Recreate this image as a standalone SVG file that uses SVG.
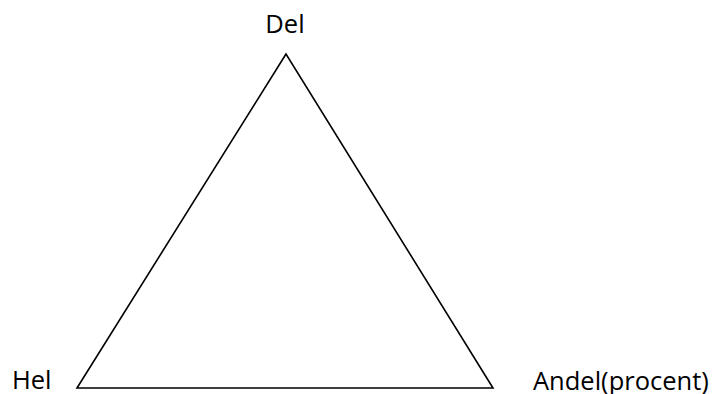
<svg xmlns="http://www.w3.org/2000/svg" width="713" height="394" viewBox="0 0 713 394">
<style>
.lbl{font-family:"Open Sans","Noto Sans","Liberation Sans",sans-serif;font-size:25.5px;fill:#000}
.edge{stroke:#000;stroke-width:1.6;fill:none;stroke-linejoin:miter}
</style>
<rect width="713" height="394" fill="#fff"/>
<g id="connectors">
<polygon class="edge" points="286,54 77,388 493,388"/>
</g>
<g id="node-del"><text class="lbl" x="285" y="33" text-anchor="middle">Del</text></g>
<g id="node-hel"><text class="lbl" x="12" y="389">Hel</text></g>
<g id="node-andel"><text class="lbl" x="533" y="390">Andel(procent)</text></g>
</svg>
